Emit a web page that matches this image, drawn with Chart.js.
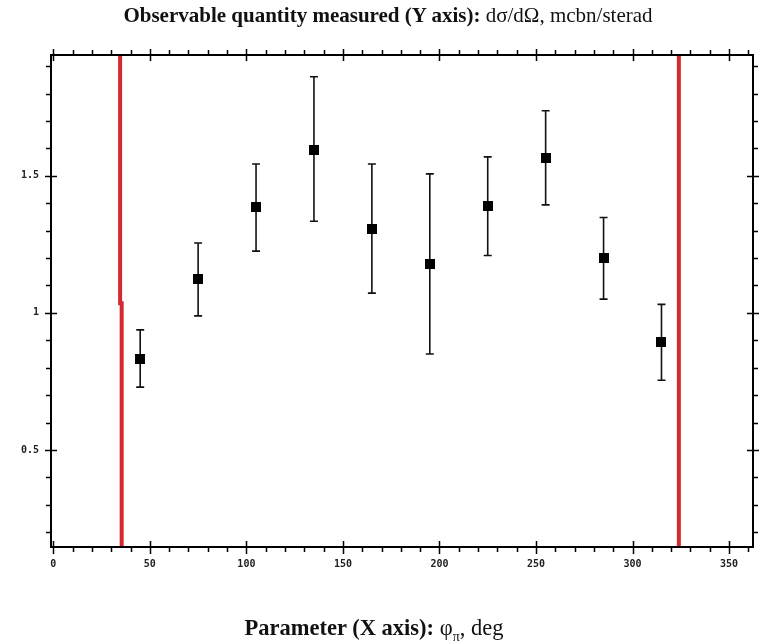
<!DOCTYPE html>
<html>
<head>
<meta charset="utf-8">
<script src="https://cdn.jsdelivr.net/npm/chart.js@4/dist/chart.umd.min.js"></script>
<style>
  html, body { margin: 0; padding: 0; background: #fff; }
  #wrap { position: relative; width: 762px; height: 643px; overflow: hidden; }
  #c { position: absolute; left: 0; top: 0; }
  .cap { position: absolute; left: 0; width: 762px; text-align: center;
         font-family: "Liberation Serif", "Times New Roman", serif;
         color: #111; white-space: nowrap; line-height: 24px; box-sizing: border-box; }
  #title { top: 3px; font-size: 21px; padding-left: 14px; }
  #xlab { top: 616px; font-size: 22.5px; padding-right: 14px; }
  .cap sub { font-size: 14px; }
</style>
</head>
<body>
<div id="wrap">
  <canvas id="c" width="762" height="643"></canvas>
  <div class="cap" id="title"><b>Observable quantity measured (Y axis):</b> dσ/dΩ, mcbn/sterad</div>
  <div class="cap" id="xlab"><b>Parameter (X axis):</b> φ<sub>π</sub>, deg</div>
</div>
<script>
// Measured cross section vs. azimuthal angle phi_pi
const phi       = [45, 75, 105, 135, 165, 195, 225, 255, 285, 315];
const sigma     = [0.830, 1.122, 1.385, 1.594, 1.307, 1.180, 1.389, 1.563, 1.199, 0.892];
const sigmaLow  = [0.729, 0.989, 1.225, 1.334, 1.072, 0.850, 1.209, 1.394, 1.050, 0.754];
const sigmaHigh = [0.938, 1.255, 1.543, 1.861, 1.543, 1.507, 1.569, 1.737, 1.348, 1.031];

// Acceptance limits (vertical red lines); the lower one has a small step
const cutLowX  = [34.6, 34.6, 35.4, 35.4];
const cutLowY  = [1.94, 1.035, 1.035, 0.146];
const cutHighX = [324, 324];
const cutHighY = [1.94, 0.146];

// Axis ranges and labelled ticks
const X_MIN = -1.2, X_MAX = 362.4;
const Y_MIN = 0.146, Y_MAX = 1.9405;
const xTickLabels = [0, 50, 100, 150, 200, 250, 300, 350];
const yTickLabels = [0.5, 1, 1.5];

const near = (v, list) => list.some(t => Math.abs(t - v) < 1e-6);

const points = phi.map((x, i) => ({ x, y: sigma[i], lo: sigmaLow[i], hi: sigmaHigh[i] }));
const lineOf = (xs, ys) => xs.map((x, i) => ({ x, y: ys[i] }));

// Vertical error bars with short caps, then square markers over them
const errorBars = {
  id: 'errorBars',
  afterDatasetsDraw(chart) {
    const { ctx, scales: { x, y } } = chart;
    const ds = chart.data.datasets[0];
    ctx.save();
    ctx.strokeStyle = '#111';
    ctx.lineWidth = 1.6;
    ds.data.forEach(p => {
      const px = x.getPixelForValue(p.x);
      const top = y.getPixelForValue(p.hi);
      const bot = y.getPixelForValue(p.lo);
      ctx.beginPath();
      ctx.moveTo(px, top); ctx.lineTo(px, bot);
      ctx.moveTo(px - 4, top); ctx.lineTo(px + 4, top);
      ctx.moveTo(px - 4, bot); ctx.lineTo(px + 4, bot);
      ctx.stroke();
    });
    ctx.fillStyle = '#000';
    ds.data.forEach(p => {
      const px = x.getPixelForValue(p.x);
      const py = y.getPixelForValue(p.y);
      ctx.fillRect(Math.round(px) - 5, Math.round(py) - 5, 10, 10);
    });
    ctx.restore();
  }
};

// Boxed frame with major/minor ticks on all four sides
const frame = {
  id: 'frame',
  afterDraw(chart) {
    const { ctx, chartArea: a, scales: { x, y } } = chart;
    ctx.save();
    ctx.strokeStyle = '#000';
    ctx.lineWidth = 2;
    ctx.strokeRect(a.left, a.top, a.right - a.left, a.bottom - a.top);
    ctx.lineWidth = 1.5;
    ctx.beginPath();
    x.ticks.forEach(t => {
      const px = Math.round(x.getPixelForValue(t.value)) + 0.5;
      if (near(t.value, xTickLabels)) {
        ctx.moveTo(px, a.bottom - 6); ctx.lineTo(px, a.bottom + 7);
        ctx.moveTo(px, a.top + 6); ctx.lineTo(px, a.top - 6);
      } else {
        ctx.moveTo(px, a.bottom); ctx.lineTo(px, a.bottom + 5);
        ctx.moveTo(px, a.top); ctx.lineTo(px, a.top - 5);
      }
    });
    y.ticks.forEach(t => {
      const py = Math.round(y.getPixelForValue(t.value)) + 0.5;
      if (near(t.value, yTickLabels)) {
        ctx.moveTo(a.left - 6, py); ctx.lineTo(a.left + 6, py);
        ctx.moveTo(a.right - 6, py); ctx.lineTo(a.right + 6, py);
      } else {
        ctx.moveTo(a.left, py); ctx.lineTo(a.left - 5, py);
        ctx.moveTo(a.right, py); ctx.lineTo(a.right + 5, py);
      }
    });
    ctx.stroke();
    ctx.restore();
  }
};

const tickFont = { family: "'DejaVu Sans Mono', monospace", size: 10, weight: 'bold' };

new Chart(document.getElementById('c'), {
  type: 'scatter',
  data: {
    datasets: [
      { data: points, pointRadius: 0, showLine: false, order: 0 },
      { type: 'line', data: lineOf(cutLowX, cutLowY), borderColor: '#d42a2f', borderWidth: 4,
        pointRadius: 0, fill: false, tension: 0, order: 1, clip: 4 },
      { type: 'line', data: lineOf(cutHighX, cutHighY), borderColor: '#d42a2f', borderWidth: 4,
        pointRadius: 0, fill: false, tension: 0, order: 1, clip: 4 }
    ]
  },
  options: {
    responsive: false,
    animation: false,
    devicePixelRatio: 1,
    layout: { padding: { top: 55, right: 9, bottom: 0, left: 0 } },
    plugins: { legend: { display: false }, tooltip: { enabled: false } },
    scales: {
      x: {
        type: 'linear', min: X_MIN, max: X_MAX,
        grid: { display: false, drawTicks: false },
        border: { display: false },
        ticks: {
          stepSize: 10, includeBounds: false, autoSkip: false, maxRotation: 0,
          padding: 11, color: '#222', font: tickFont,
          callback: v => near(v, xTickLabels) ? String(Math.round(v)) : ''
        },
        afterFit: s => { s.height = 96; }
      },
      y: {
        type: 'linear', min: Y_MIN, max: Y_MAX,
        grid: { display: false, drawTicks: false },
        border: { display: false },
        ticks: {
          stepSize: 0.1, includeBounds: false, autoSkip: false,
          padding: 12, color: '#222', font: tickFont,
          callback: v => near(v, yTickLabels) ? String(+v.toFixed(1)) : ''
        },
        afterFit: s => { s.width = 51; }
      }
    }
  },
  plugins: [errorBars, frame]
});
</script>
</body>
</html>
